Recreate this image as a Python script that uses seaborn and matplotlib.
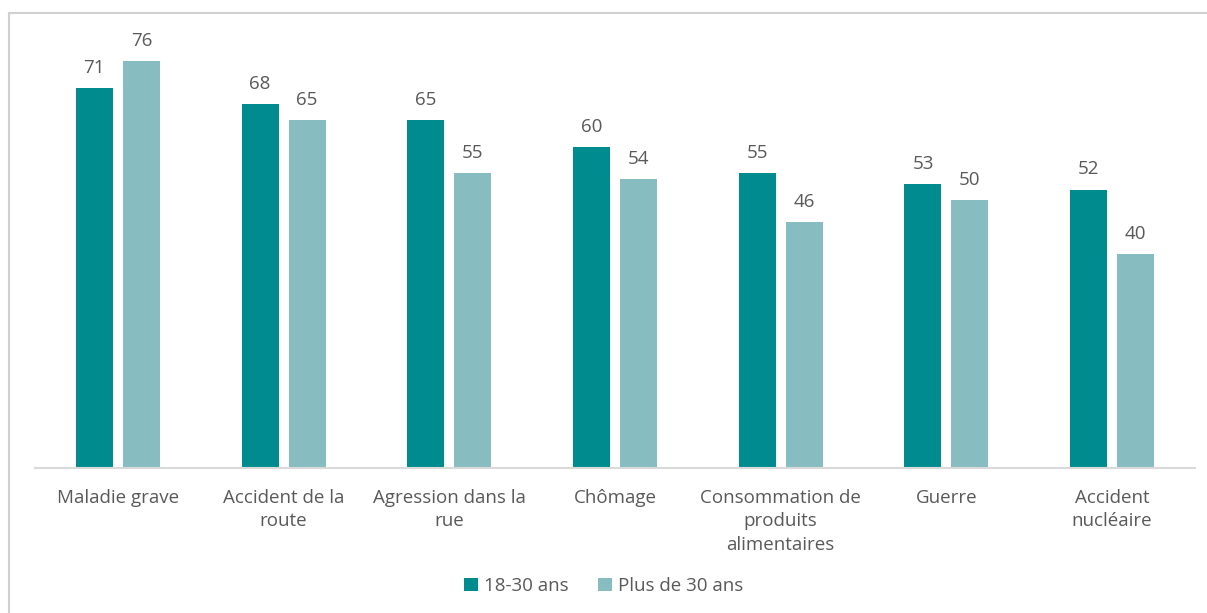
import pandas as pd
import seaborn as sns
import matplotlib.pyplot as plt
from matplotlib.lines import Line2D

# data
categories = ["Maladie grave", "Accident de la\nroute", "Agression dans la\nrue", "Chômage",
              "Consommation de\nproduits\nalimentaires", "Guerre", "Accident\nnucléaire"]
young = [71, 68, 65, 60, 55, 53, 52]
older = [76, 65, 55, 54, 46, 50, 40]
groups = ["18-30 ans", "Plus de 30 ans"]

df = pd.DataFrame({
    "cat": categories * 2,
    "val": young + older,
    "grp": [groups[0]] * len(young) + [groups[1]] * len(older),
})

sns.set_style("white")
plt.rcParams['font.family'] = ['Open Sans', 'DejaVu Sans']
grey = "#595959"

fig = plt.figure(figsize=(12.07, 6.13), dpi=100)
ax = fig.add_axes([35 / 1207, 1 - 468 / 613, 1160 / 1207, 448 / 613])

sns.barplot(data=df, x="cat", y="val", hue="grp", order=categories, hue_order=groups,
            palette=["#008B8F", "#87BCC1"], saturation=1, linewidth=0,
            width=0.567, gap=0.21, ax=ax, legend=True)

for c in ax.containers:
    ax.bar_label(c, fmt="%d", padding=8, fontsize=13.5, color=grey)

ax.set_ylim(0, 83.66)
ax.set_xlim(-0.5, len(categories) - 0.5)
ax.set_xlabel("")
ax.set_ylabel("")
ax.set_yticks([])
ax.tick_params(axis="x", length=0, pad=15, labelsize=13.5, labelcolor=grey)
for lab in ax.get_xticklabels():
    lab.set_verticalalignment("top")
    lab.set_multialignment("center")
    lab.set_linespacing(1.4)
for s in ["top", "right", "left"]:
    ax.spines[s].set_visible(False)
ax.spines["bottom"].set_color("#D9D9D9")
ax.spines["bottom"].set_linewidth(1.5)

ax.legend(loc="center", bbox_to_anchor=(0.5, (613 - 586) / 613), bbox_transform=fig.transFigure,
          ncol=2, frameon=False, fontsize=13.5, labelcolor=grey, handlelength=0.75, handleheight=0.75,
          handletextpad=0.3, columnspacing=1.6)

# outer frame
fig.add_artist(Line2D([9 / 1207, 9 / 1207], [0, 1 - 13 / 613], transform=fig.transFigure,
                      color="#D0D0D0", lw=1.5))
fig.add_artist(Line2D([9 / 1207, 1], [1 - 13 / 613, 1 - 13 / 613], transform=fig.transFigure,
                      color="#D0D0D0", lw=1.5))

plt.savefig("out.png", dpi=100)
